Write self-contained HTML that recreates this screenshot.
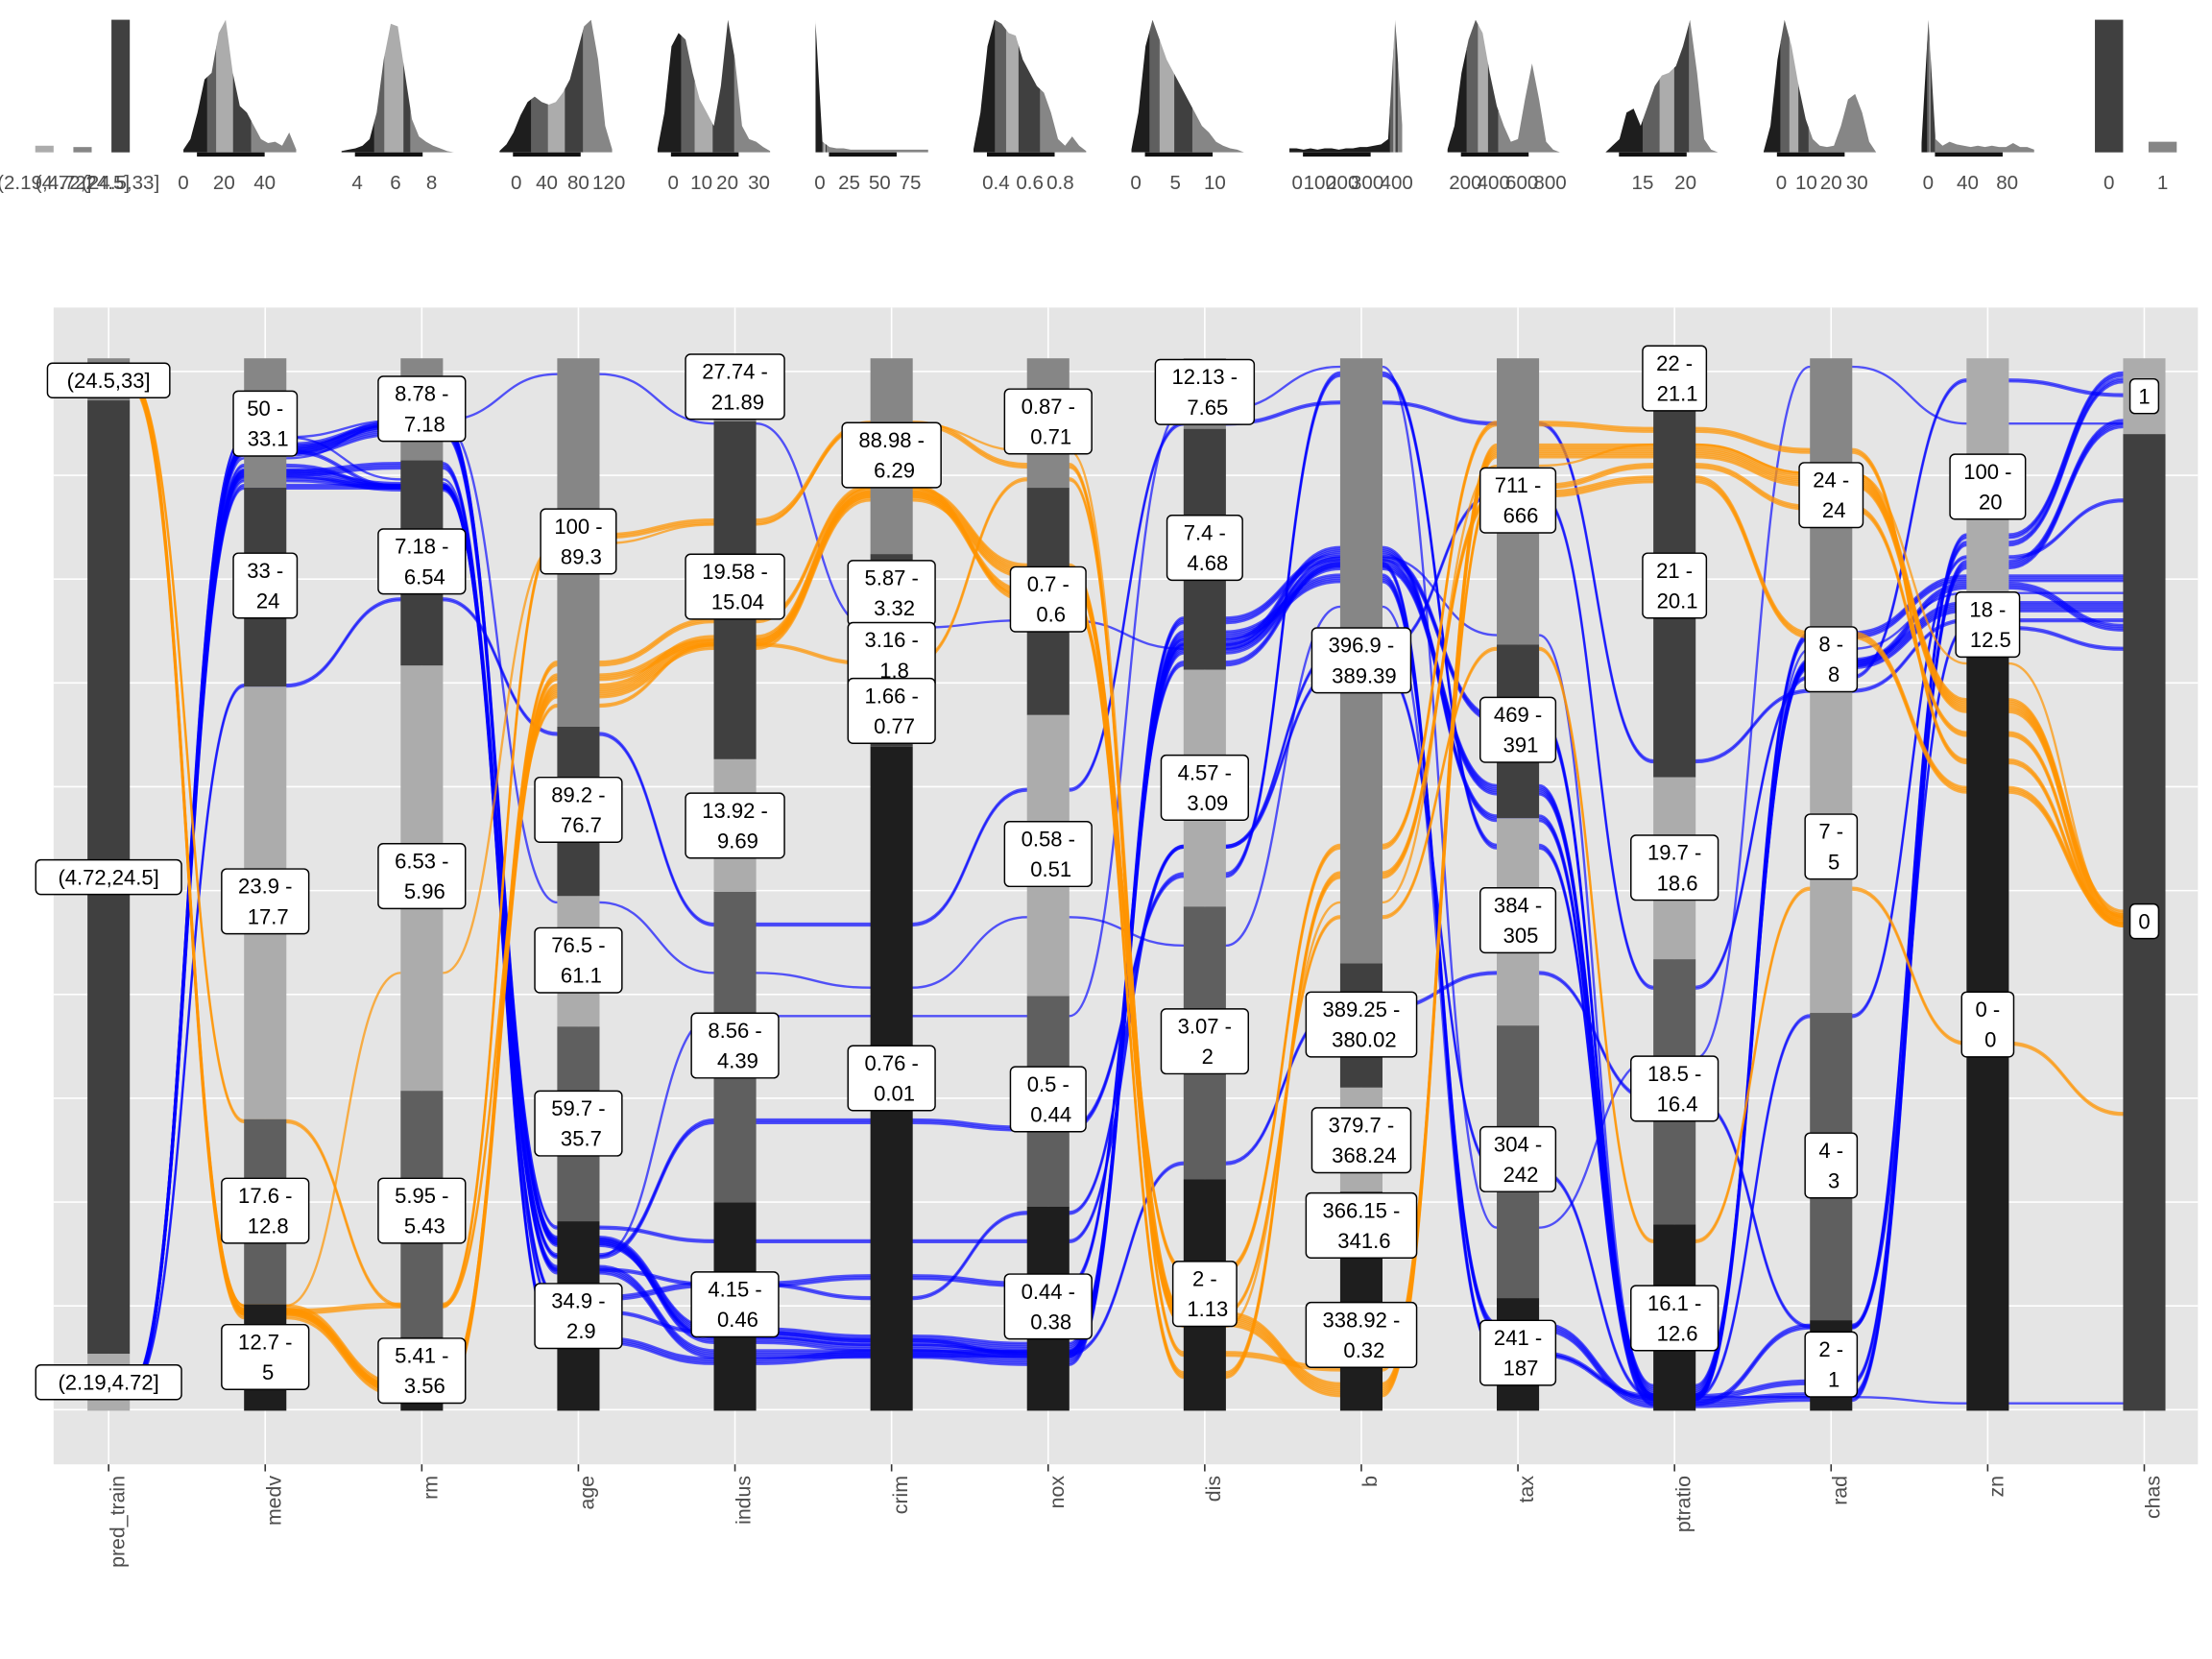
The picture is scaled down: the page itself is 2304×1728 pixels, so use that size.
<!DOCTYPE html>
<html><head><meta charset="utf-8"><title>Alluvial parallel coordinates</title>
<style>
html,body{margin:0;padding:0;background:#fff;}
svg{display:block;font-family:"Liberation Sans",Arial,sans-serif;}
</style></head>
<body>
<svg id="chart" width="2304" height="1728" viewBox="0 0 1568 1176" xmlns="http://www.w3.org/2000/svg">
<rect x="0" y="0" width="1568" height="1176" fill="#ffffff"/>
<g id="minis"></g>
<rect x="38" y="218" width="1520" height="820" fill="#e5e5e5"/>
<g id="grid"></g>
<g id="flows"></g>
<g id="bars"></g>
<g id="labels"></g>
<g id="xaxis"></g>
</svg>
<script>
const axisNames = ["pred_train","medv","rm","age","indus","crim","nox","dis","b","tax","ptratio","rad","zn","chas"];
// segment boundaries (percent of axis height, top to bottom) and tone codes
const segBounds = [
 [100,96.0,5.4,0],
 [100,87.7,68.8,27.7,10.1,0],
 [100,90.3,70.8,30.4,7.0,0],
 [100,65.0,48.9,36.5,18.0,0],
 [100,94.0,61.9,49.3,19.8,0],
 [100,81.4,63.1,0],
 [100,87.7,66.1,39.4,19.4,0],
 [100,93.3,70.4,47.9,22.0,0],
 [100,42.5,30.7,20.8,0],
 [100,72.8,56.3,36.6,10.7,0],
 [100,95.2,60.2,42.9,17.7,0],
 [100,74.4,37.8,8.6,0],
 [100,72.4,0],
 [100,92.8,0]
];
const segTones = [
 ["M","D","L"],["M","D","L","E","K"],["M","D","L","E","K"],["M","D","L","E","K"],
 ["M","D","L","E","K"],["M","D","K"],["M","D","L","E","K"],["M","D","L","E","K"],
 ["M","D","L","K"],["M","D","L","E","K"],["M","D","L","E","K"],["M","L","E","K"],
 ["L","K"],["L","D"]
];
const binLabels = [
 [["(24.5,33]"],["(4.72,24.5]"],["(2.19,4.72]"]],
 [["50 -","33.1"],["33 -","24"],["23.9 -","17.7"],["17.6 -","12.8"],["12.7 -","5"]],
 [["8.78 -","7.18"],["7.18 -","6.54"],["6.53 -","5.96"],["5.95 -","5.43"],["5.41 -","3.56"]],
 [["100 -","89.3"],["89.2 -","76.7"],["76.5 -","61.1"],["59.7 -","35.7"],["34.9 -","2.9"]],
 [["27.74 -","21.89"],["19.58 -","15.04"],["13.92 -","9.69"],["8.56 -","4.39"],["4.15 -","0.46"]],
 [["88.98 -","6.29"],["5.87 -","3.32"],["3.16 -","1.8"],["1.66 -","0.77"],["0.76 -","0.01"]],
 [["0.87 -","0.71"],["0.7 -","0.6"],["0.58 -","0.51"],["0.5 -","0.44"],["0.44 -","0.38"]],
 [["12.13 -","7.65"],["7.4 -","4.68"],["4.57 -","3.09"],["3.07 -","2"],["2 -","1.13"]],
 [["396.9 -","389.39"],["389.25 -","380.02"],["379.7 -","368.24"],["366.15 -","341.6"],["338.92 -","0.32"]],
 [["711 -","666"],["469 -","391"],["384 -","305"],["304 -","242"],["241 -","187"]],
 [["22 -","21.1"],["21 -","20.1"],["19.7 -","18.6"],["18.5 -","16.4"],["16.1 -","12.6"]],
 [["24 -","24"],["8 -","8"],["7 -","5"],["4 -","3"],["2 -","1"]],
 [["100 -","20"],["18 -","12.5"],["0 -","0"]],
 [["1"],["0"]]
];
const labelPos = [
 [97.9,50.7,2.7],[93.8,78.4,48.4,19.0,5.1],[95.2,80.7,50.8,19.0,3.8],[82.6,57.1,42.8,27.3,9.0],
 [97.3,78.3,55.6,34.7,10.1],[90.8,77.7,71.8,66.5,31.6],[94.0,77.1,52.9,29.6,9.9],[96.8,82.0,59.2,35.1,11.1],
 [71.3,36.7,25.7,17.6,7.2],[86.5,64.7,46.6,23.9,5.5],[98.1,78.4,51.6,30.6,8.8],[87.0,71.4,53.6,23.3,4.4],
 [87.8,74.7,36.7],[96.4,46.5]
];
// flows: value (percent position) on each axis, plus bundle sizes
const orangeFlows = [
 [97.9,9.4,2,68.4,73,87.1,79.8,8.7,2,91.2,91.2,88.5,67,46.9],
 [97.9,9.4,10,83.1,84.5,93.8,89.8,5.4,4,87.8,89.8,85.8,64.3,46.2],
 [97.9,9.4,2,69.7,73,87.1,77.7,3.4,50.9,87.1,88.5,73.7,59,46.9],
 [97.9,27.5,10,67,72.8,71,88.5,9.4,46.9,72.4,16.1,49.6,34.9,28.2],
 [97.9,10,41.6,82.4,84.2,93.8,91.2,8,48.3,89.8,91.8,89.1,71,46.9],
 [97.9,9.4,2,71,75.1,87.8,77.1,13.4,53.6,93.8,93.2,91.2,61.7,46.2]
];
const orangeCounts = [8,3,4,2,1,3];
const blueFlows = [
 [2,92.5,94.1,98.5,93.8,74.4,75.1,72.4,81.1,73.7,1.3,72.4,77.7,77.7],
 [2,91.2,93.2,16.1,7.4,6.7,6,72.4,80.4,59,2,71,76.4,76.4],
 [2,89.1,87.8,13.4,5.4,5.4,4.7,73.7,79.1,8,0.7,1.3,80.4,93.8],
 [2,88.5,87.8,10.7,12,12.7,12,71,80.4,5.4,1.3,2.7,83.1,98.5],
 [2,87.8,87.8,14.7,27.5,27.5,26.8,50.9,98.5,53.6,0.7,8,82.4,97.9],
 [2,68.9,77.1,64.3,46.2,46.2,59,93.8,95.8,93.8,61.7,68.4,75.1,75.1],
 [2,91.8,93.8,17.4,16.1,16.1,16.1,53.6,72.4,87.1,40.2,69.7,97.9,96.5],
 [2,92.5,88.5,14.7,37.5,37.5,37.5,95.2,99.2,17.4,33.5,99.2,93.8,93.8],
 [2,90.5,93.8,48.3,41.6,40.2,46.9,44.2,76.4,5.4,1.3,1.3,0.7,0.7],
 [2,89.8,87.8,9.4,7.4,6.7,5.4,23.5,38.2,41.6,29.5,8,74.4,72.4],
 [2,91.2,87.8,13.4,12,10.7,18.8,53.6,70.4,22.8,1.3,37.5,81.1,86.5],
 [2,89.1,89.8,6.7,4.7,5.4,5.4,75.1,81.1,65.7,1.3,73.7,79.1,79.1],
 [2,91.2,93.8,16.1,6.7,6,5.4,73,81.8,56.3,1.3,71,78.4,74.4]
];
const blueCounts = [1,6,5,3,3,2,2,1,1,2,2,4,4];
// mini density strip: 17 density samples per variable (normalized), band edges as fraction of range
const densityVars = ["medv","rm","age","indus","crim","nox","dis","b","tax","ptratio","rad","zn"];
const densityValues = [
 [.02,.1,.3,.55,.6,.9,1,.6,.35,.3,.2,.1,.07,.08,.05,.15,.02],
 [.01,.02,.03,.05,.1,.3,.7,.97,.95,.6,.25,.12,.08,.05,.03,.01,0],
 [.01,.06,.15,.28,.38,.42,.38,.36,.38,.45,.55,.75,.95,1,.7,.2,.02],
 [.02,.3,.8,.9,.85,.6,.4,.3,.2,.5,1,.7,.2,.1,.08,.04,.01],
 [1,.08,.04,.03,.03,.02,.02,.02,.02,.02,.02,.02,.02,.02,.02,.02,.02],
 [.02,.3,.8,1,.97,.9,.88,.7,.6,.5,.45,.3,.1,.05,.12,.05,.01],
 [.02,.3,.8,1,.85,.7,.6,.5,.4,.3,.2,.15,.08,.05,.03,.02,0],
 [.03,.03,.02,.03,.02,.03,.03,.02,.03,.03,.04,.04,.05,.06,.1,1,.2],
 [.02,.2,.6,.85,1,.9,.6,.35,.2,.08,.1,.4,.67,.4,.08,.02,0],
 [0,.05,.1,.3,.33,.2,.35,.5,.58,.6,.65,.8,1,.6,.1,.02,0],
 [0,.2,.7,1,.8,.5,.25,.1,.05,.04,.05,.2,.4,.44,.3,.08,0],
 [.05,1,.1,.05,.08,.06,.05,.04,.05,.04,.05,.04,.04,.07,.04,.04,.02]
];
const densityBands = [
 [.21,.29,.44,.6],[.29,.38,.55,.61],[.28,.43,.58,.74],[.21,.33,.49,.68],
 [.06,.07,.09,.1],[.19,.29,.4,.59],[.16,.25,.38,.54],[.89,.92,.94,.96],
 [.17,.27,.36,.45],[.33,.48,.61,.74],[.15,.23,.31,.4],[.05,.07,.08,.12]
];
const densityTicks = [
 [["0",0],["20",.36],["40",.72]],
 [["4",.14],["6",.48],["8",.8]],
 [["0",.15],["40",.42],["80",.7],["120",.97]],
 [["0",.14],["10",.39],["20",.62],["30",.9]],
 [["0",.04],["25",.3],["50",.57],["75",.84]],
 [["0.4",.2],["0.6",.5],["0.8",.77]],
 [["0",.04],["5",.39],["10",.74]],
 [["0",.07],["100",.27],["200",.47],["300",.69],["400",.95]],
 [["200",.16],["400",.41],["600",.66],["800",.91]],
 [["15",.33],["20",.71]],
 [["0",.16],["10",.38],["20",.6],["30",.83]],
 [["0",.06],["40",.41],["80",.76]]
];
const predBarHeights = [0.05,0.04,1.0];
const predBarLabels = ["(2.19,4.72]","(4.72,24.5]","(24.5,33]"];
const chasBarHeights = [1.0,0.08];
const chasBarLabels = ["0","1"];

const NS="http://www.w3.org/2000/svg";
const tone={L:"#acacac",M:"#868686",D:"#404040",E:"#5f5f5f",K:"#1e1e1e"};
const Y0=1000,Y1=254;
function axisX(i){return 77+i*111;}
function yScale(v){return Y0-(Y0-Y1)*v/100;}
function mk(tag,attrs,parent){const e=document.createElementNS(NS,tag);for(const k in attrs)e.setAttribute(k,attrs[k]);parent.appendChild(e);return e;}

// grid
const grid=document.getElementById('grid');
for(let k=0;k<11;k++){const gy=263.3+73.6*k;const l=mk('line',{x1:38,x2:1558,y1:gy,y2:gy,stroke:'#ffffff','stroke-width':1.1},grid);

}
axisNames.forEach((n,i)=>{const l=mk('line',{x1:axisX(i),x2:axisX(i),y1:218,y2:1038,stroke:'#ffffff','stroke-width':1.1},grid);

});

// flows
const flows=document.getElementById('flows');
function drawFlow(vals,count,color,op,name){
 for(let c=0;c<count;c++){
  const off=(c-(count-1)/2)*1.3;
  let d='';
  for(let i=0;i<vals.length-1;i++){
   const xa=axisX(i)+15,xb=axisX(i+1)-15,ya=yScale(vals[i])+off,yb=yScale(vals[i+1])+off,xm=(xa+xb)/2;
   d+=(i===0?'M':'L')+(xa-15)+','+ya+' L'+xa+','+ya+' C'+xm+','+ya+' '+xm+','+yb+' '+xb+','+yb+' L'+(xb+15)+','+yb+' ';
  }
  const p=mk('path',{d:d,fill:'none',stroke:color,'stroke-width':1.6,'stroke-opacity':op},flows);
  
  
 }
}
blueFlows.forEach((f,i)=>drawFlow(f,blueCounts[i],'#0000ff',0.65,'blue-flow'));
orangeFlows.forEach((f,i)=>drawFlow(f,orangeCounts[i],'#ff9400',0.7,'orange-flow'));

// bars
const bars=document.getElementById('bars');
segBounds.forEach((b,i)=>{for(let s=0;s<b.length-1;s++){const ya=yScale(b[s]),yb=yScale(b[s+1]);
 const r=mk('rect',{x:axisX(i)-15,y:ya,width:30,height:yb-ya,fill:tone[segTones[i][s]]},bars);
 
 }});

// labels
const labels=document.getElementById('labels');
binLabels.forEach((ls,i)=>{ls.forEach((lines,j)=>{
 const cy=yScale(labelPos[i][j]);const fs=15;const lh=21.5;
 const w=Math.max(...lines.map(t=>t.length))*8.3+12;const h=lines.length*lh+3;
 const g=mk('g',{},labels);
 
 
 mk('rect',{x:axisX(i)-w/2,y:cy-h/2,width:w,height:h,rx:3.5,fill:'#ffffff',stroke:'#000000','stroke-width':1},g);
 lines.forEach((t,k)=>{const tx=mk('text',{x:axisX(i)+(k===1&&lines.length>1?2:0),y:cy-h/2+lh*(k+1)-4,'font-size':fs,'text-anchor':'middle',fill:'#000'},g);tx.textContent=t;});
});});

// x axis
const xa=document.getElementById('xaxis');
axisNames.forEach((n,i)=>{mk('line',{x1:axisX(i),x2:axisX(i),y1:1038,y2:1043,stroke:'#333','stroke-width':1.1},xa);
 const t=mk('text',{x:0,y:0,transform:'translate('+(axisX(i)+11)+',1046) rotate(-90)','font-size':14.5,'text-anchor':'end',fill:'#4d4d4d'},xa);
 
 
 t.textContent=n;});

// mini density strip
const minis=document.getElementById('minis');
const BASE=108,TOPH=94,W=80;
function miniText(x,s){const t=mk('text',{x:x,y:134,'font-size':14,'text-anchor':'middle',fill:'#4d4d4d'},minis);
 
 
 t.textContent=s;}
predBarHeights.forEach((h,k)=>{const x=25+k*27;const r=mk('rect',{x:x,y:BASE-h*TOPH,width:13,height:h*TOPH,fill:[tone.L,tone.M,tone.D][k]},minis);
 
 
 miniText(x+6.5,predBarLabels[k]);});
chasBarHeights.forEach((h,k)=>{const x=1485+k*38;const r=mk('rect',{x:x,y:BASE-h*TOPH,width:20,height:h*TOPH,fill:[tone.D,tone.M][k]},minis);
 
 
 miniText(x+10,chasBarLabels[k]);});
densityVars.forEach((n,i)=>{
 const x0=130+i*112;const vals=densityValues[i];const step=W/(vals.length-1);
 let d='M'+x0+','+BASE;
 vals.forEach((v,k)=>{d+=' L'+(x0+k*step)+','+(BASE-v*TOPH);});
 d+=' L'+(x0+W)+','+BASE+' Z';
 const cid='clip'+i;
 const cp=mk('clipPath',{id:cid},minis);mk('path',{d:d},cp);
 const g=mk('g',{'clip-path':'url(#'+cid+')'},minis);
 
 
 const edges=[0].concat(densityBands[i]).concat([1]);const cols=[tone.K,tone.E,tone.L,tone.D,tone.M];
 for(let s=0;s<5;s++){mk('rect',{x:x0+edges[s]*W,y:0,width:(edges[s+1]-edges[s])*W+0.3,height:BASE+1,fill:cols[s]},g);}
 mk('rect',{x:x0+W*0.12,y:BASE,width:W*0.6,height:3,fill:'#111'},minis);
 densityTicks[i].forEach(tk=>miniText(x0+tk[1]*W,tk[0]));
});
</script>
</body></html>
